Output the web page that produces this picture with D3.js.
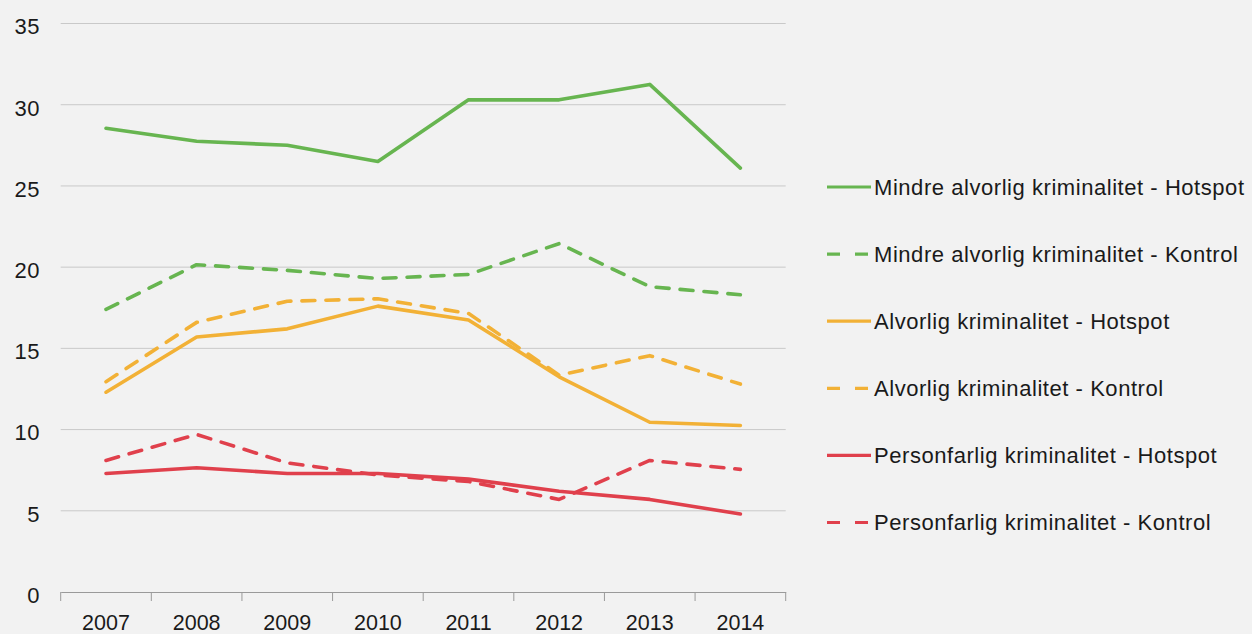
<!DOCTYPE html>
<html>
<head>
<meta charset="utf-8">
<script src="https://cdn.jsdelivr.net/npm/d3@7"></script>
<style>
  html, body { margin: 0; padding: 0; background: #f2f2f2; }
  svg { display: block; }
  text { font-family: "Liberation Sans", Arial, Helvetica, sans-serif; fill: #1a1a1a; }
</style>
</head>
<body>
<script>
const years = ["2007", "2008", "2009", "2010", "2011", "2012", "2013", "2014"];
const yTicks = [0, 5, 10, 15, 20, 25, 30, 35];

const mindreHotspot = [28.55, 27.75, 27.5, 26.5, 30.3, 30.3, 31.25, 26.1];
const mindreKontrol = [17.4, 20.15, 19.8, 19.3, 19.55, 21.45, 18.8, 18.3];
const alvorligHotspot = [12.3, 15.7, 16.2, 17.6, 16.75, 13.25, 10.45, 10.25];
const alvorligKontrol = [12.95, 16.6, 17.9, 18.05, 17.15, 13.35, 14.55, 12.8];
const personHotspot = [7.3, 7.65, 7.3, 7.3, 6.95, 6.2, 5.7, 4.8];
const personKontrol = [8.1, 9.7, 7.95, 7.2, 6.8, 5.7, 8.1, 7.55];

const seriesNames = [
  "Mindre alvorlig kriminalitet - Hotspot",
  "Mindre alvorlig kriminalitet - Kontrol",
  "Alvorlig kriminalitet - Hotspot",
  "Alvorlig kriminalitet - Kontrol",
  "Personfarlig kriminalitet - Hotspot",
  "Personfarlig kriminalitet - Kontrol"
];
const seriesValues = [mindreHotspot, mindreKontrol, alvorligHotspot, alvorligKontrol, personHotspot, personKontrol];
const seriesColors = ["#67b550", "#67b550", "#f2b136", "#f2b136", "#e0404c", "#e0404c"];
const seriesDashed = [false, true, false, true, false, true];

(function () {
const W = 1252, H = 634;
const svg = d3.select("body").append("svg").attr("width", W).attr("height", H);
svg.append("rect").attr("width", W).attr("height", H).attr("fill", "#f2f2f2");

const pLeft = 60.7, pRight = 785.7, pTop = 23.5, pBottom = 592;
const x = d3.scaleBand().domain(years).range([pLeft, pRight]).padding(0);
const y = d3.scaleLinear().domain([0, 35]).range([pBottom, pTop]);

// gridlines
svg.append("g").selectAll("line").data(yTicks.filter(d => d > 0)).join("line")
  .attr("x1", pLeft).attr("x2", pRight)
  .attr("y1", d => y(d)).attr("y2", d => y(d))
  .attr("stroke", "#c9c9c9").attr("stroke-width", 1);

// y labels
const yAxis = d3.axisLeft(y).tickValues(yTicks).tickSize(0).tickPadding(21);
const gy = svg.append("g").attr("transform", `translate(${pLeft},0)`).call(yAxis);
gy.select(".domain").remove();
gy.selectAll("text").style("font-size", "22px").style("letter-spacing", "0.3px")
  .attr("dy", "0.38em").attr("fill", "#1a1a1a")
  .attr("transform", "translate(0,2)");

// x axis
const xAxis = d3.axisBottom(x).tickSize(0).tickPadding(0);
const gx = svg.append("g").attr("transform", `translate(0,${pBottom})`).call(xAxis);
gx.select(".domain").attr("stroke", "#9a9a9a").attr("stroke-width", 1);
gx.selectAll("text").style("font-size", "21.5px").attr("y", 38).attr("dy", 0).attr("fill", "#1a1a1a");
// boundary ticks
const tickPos = years.map(d => x(d)).concat([pRight]);
svg.append("g").selectAll("line").data(tickPos).join("line")
  .attr("x1", d => d).attr("x2", d => d)
  .attr("y1", pBottom).attr("y2", pBottom + 9)
  .attr("stroke", "#9a9a9a").attr("stroke-width", 1);

// lines
const line = d3.line()
  .x((d, i) => x(years[i]) + x.bandwidth() / 2)
  .y(d => y(d));

seriesValues.forEach((vals, k) => {
  svg.append("path")
    .datum(vals)
    .attr("d", line)
    .attr("fill", "none")
    .attr("stroke", seriesColors[k])
    .attr("stroke-width", 3.6)
    .attr("stroke-linejoin", "round")
    .attr("stroke-linecap", "round")
    .attr("stroke-dasharray", seriesDashed[k] ? "13,11" : null);
});

// legend
const lg = svg.append("g");
const legY0 = 187, legStep = 67.1;
seriesNames.forEach((name, k) => {
  const yy = legY0 + k * legStep;
  lg.append("line")
    .attr("x1", 827).attr("x2", 871)
    .attr("y1", yy).attr("y2", yy)
    .attr("stroke", seriesColors[k])
    .attr("stroke-width", 3.2)
    .attr("stroke-dasharray", seriesDashed[k] ? "13,15" : null);
  lg.append("text")
    .attr("x", 874).attr("y", yy)
    .attr("dy", "0.36em")
    .style("font-size", "22px")
    .style("letter-spacing", "0.55px")
    .text(name);
});
})();
</script>
</body>
</html>
